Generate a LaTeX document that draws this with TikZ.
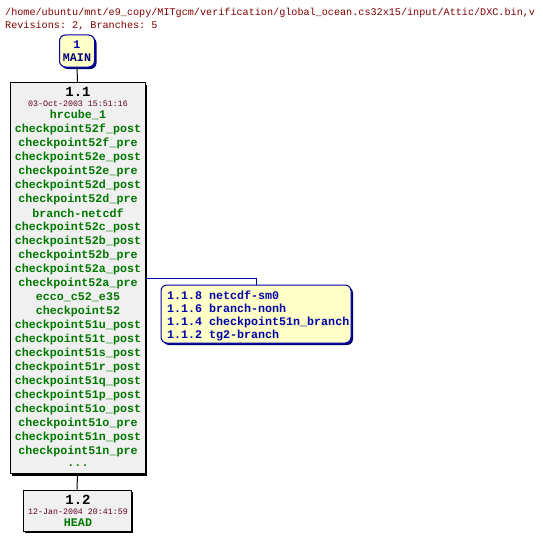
\documentclass[tikz,border=0pt]{standalone}
\usepackage{fontspec}
\setmonofont{Liberation Mono}
\usetikzlibrary{shadows}
\definecolor{tgreen}{RGB}{0,120,0}
\definecolor{tred}{RGB}{128,0,0}
\definecolor{tdate}{RGB}{96,0,32}
\definecolor{tblue}{RGB}{0,0,170}
\definecolor{tnavy}{RGB}{0,0,120}
\definecolor{revfill}{RGB}{240,240,240}
\definecolor{yelfill}{RGB}{255,255,200}
\begin{document}
\begin{tikzpicture}[x=1pt,y=-1pt,
  revbox/.style={draw=black, line width=1pt, fill=revfill, inner sep=0pt,
    drop shadow={shadow xshift=2pt, shadow yshift=-2pt, opacity=1, fill=black}},
  tagbox/.style={draw=tblue, line width=1pt, fill=yelfill, inner sep=0pt, rounded corners=6pt,
    drop shadow={shadow xshift=2pt, shadow yshift=-2pt, opacity=1, fill=tnavy}},
  txt/.style={inner sep=0pt, anchor=center},
  greentxt/.style={txt, text=tgreen, font=\ttfamily\bfseries\fontsize{11.67}{14}\selectfont},
  revnum/.style={txt, text=black, font=\ttfamily\bfseries\fontsize{14}{16}\selectfont},
  datetxt/.style={txt, text=tdate, font=\ttfamily\fontsize{8.3}{10}\selectfont},
  bluetxt/.style={inner sep=0pt, anchor=west, text=tblue, font=\ttfamily\bfseries\fontsize{11.67}{14}\selectfont},
  titletxt/.style={inner sep=0pt, anchor=base west, text=tred, font=\ttfamily\fontsize{10.15}{12}\selectfont},
  edge/.style={draw=black, line width=1pt},
  bedge/.style={draw=tblue, line width=1pt}]
\useasboundingbox (0,0) rectangle (542,543);
\fill[white] (0,0) rectangle (542,543);

\node[titletxt] (title) at (5,16) {/home/ubuntu/mnt/e9\_copy/MITgcm/verification/global\_ocean.cs32x15/input/Attic/DXC.bin,v};
\node[titletxt] (revs) at (5,29) {Revisions: 2, Branches: 5};

% boxes
\node[tagbox, minimum width=35pt, minimum height=32pt] (main) at (77,51) {};
\node[revbox, minimum width=135pt, minimum height=391pt] (b11) at (77.5,278) {};
\node[revbox, minimum width=108pt, minimum height=41pt] (b12) at (77,510.5) {};
\node[tagbox, minimum width=190pt, minimum height=58pt] (br) at (256,314) {};

% connectors
\draw[edge] (main.south) -- (b11.north);
\draw[edge] (b11.south) -- (b12.north);
\draw[bedge] (b11.east) -| (br.north);

% MAIN text
\node[txt, text=tblue, font=\ttfamily\bfseries\fontsize{11.67}{14}\selectfont] (mainnum) at (77,45) {1};
\node[txt, text=tnavy, font=\ttfamily\bfseries\fontsize{11.67}{14}\selectfont] (mainlbl) at (77,58) {MAIN};

% 1.1 text
\node[revnum] (r11) at (78,92) {1.1};
\node[datetxt] (d11) at (78,103.5) {03-Oct-2003 15:51:16};
\foreach \t [count=\i from 0] in {hrcube\_1,checkpoint52f\_post,checkpoint52f\_pre,checkpoint52e\_post,checkpoint52e\_pre,checkpoint52d\_post,checkpoint52d\_pre,branch-netcdf,checkpoint52c\_post,checkpoint52b\_post,checkpoint52b\_pre,checkpoint52a\_post,checkpoint52a\_pre,ecco\_c52\_e35,checkpoint52,checkpoint51u\_post,checkpoint51t\_post,checkpoint51s\_post,checkpoint51r\_post,checkpoint51q\_post,checkpoint51p\_post,checkpoint51o\_post,checkpoint51o\_pre,checkpoint51n\_post,checkpoint51n\_pre}
  \node[greentxt] (g\i) at (78,115+14*\i) {\t};
\node[greentxt] (gdots) at (78,466) {...};

% 1.2 text
\node[revnum] (r12) at (78,500) {1.2};
\node[datetxt] (d12) at (78,512) {12-Jan-2004 20:41:59};
\node[greentxt] (head) at (78,523) {HEAD};

% branch text
\node[bluetxt] (t1) at (167,295) {1.1.8 netcdf-sm0};
\node[bluetxt] (t2) at (167,308.5) {1.1.6 branch-nonh};
\node[bluetxt] (t3) at (167,322) {1.1.4 checkpoint51n\_branch};
\node[bluetxt] (t4) at (167,335.5) {1.1.2 tg2-branch};
\end{tikzpicture}
\end{document}
